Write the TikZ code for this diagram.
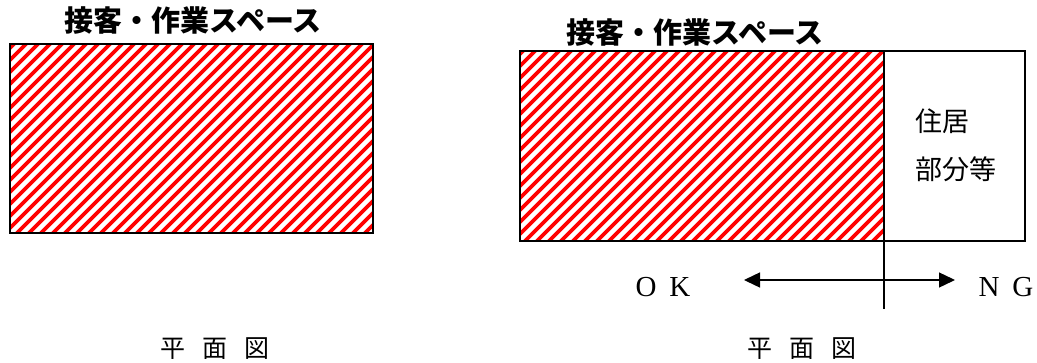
\documentclass[tikz,border=0pt]{standalone}
\usepackage{fontspec}
\usetikzlibrary{arrows.meta}
\newfontfamily\jpsans{Noto Sans CJK JP}
\setmainfont{Liberation Serif}
\begin{document}
\begin{tikzpicture}[x=1pt,y=-1pt,
  frame/.style={draw=black, line width=1.2pt},
  hatch/.style={draw=red, line width=3.8pt},
  title/.style={font=\jpsans\bfseries\fontsize{29}{32}\selectfont, inner sep=0pt},
  label/.style={font=\jpsans\fontsize{27}{30}\selectfont, inner sep=0pt},
  caption/.style={font=\jpsans\fontsize{25}{28}\selectfont, inner sep=0pt},
  latin/.style={font=\fontsize{29}{31}\selectfont, inner sep=0pt},
  arr/.style={line width=1.4pt, -{Triangle[length=16pt,width=15pt]}}]
\useasboundingbox (0,0) rectangle (1037,362);
% left panel
\begin{scope}
\clip (10,44) rectangle (373,233);
\foreach \i in {-190,-178,...,380} \draw[hatch] (\i,236) -- ++(195,-195);
\end{scope}
\draw[frame] (10,44) rectangle (373,233);
\node[title] (t1) at (193,21) {接客・作業スペース};
\node[caption] (p1) at (215,349) {平\hspace{0.7em}面\hspace{0.7em}図};
% right panel
\begin{scope}
\clip (520,51) rectangle (884,241);
\foreach \i in {330,342,...,890} \draw[hatch] (\i,244) -- ++(195,-195);
\end{scope}
\draw[frame] (520,51) rectangle (1025,241);
\coordinate (dtop) at (884,51);
\coordinate (dbot) at (884,309);
\draw[line width=1.4pt] (dtop) -- (dbot);
\node[title] (t2) at (695,33) {接客・作業スペース};
\node[label, anchor=west] (j1) at (915,121) {住居};
\node[label, anchor=west] (j2) at (915,169) {部分等};
\coordinate (mid) at (884,280);
\coordinate (la) at (744,280);
\coordinate (ra) at (955,280);
\draw[arr] (mid) -- (la);
\draw[arr] (mid) -- (ra);
\node[latin] (ok) at (663,287) {O\hspace{0.45em}K};
\node[latin] (ng) at (1006,287) {N\hspace{0.45em}G};
\node[caption] (p2) at (802,349) {平\hspace{0.7em}面\hspace{0.7em}図};
\end{tikzpicture}
\end{document}
